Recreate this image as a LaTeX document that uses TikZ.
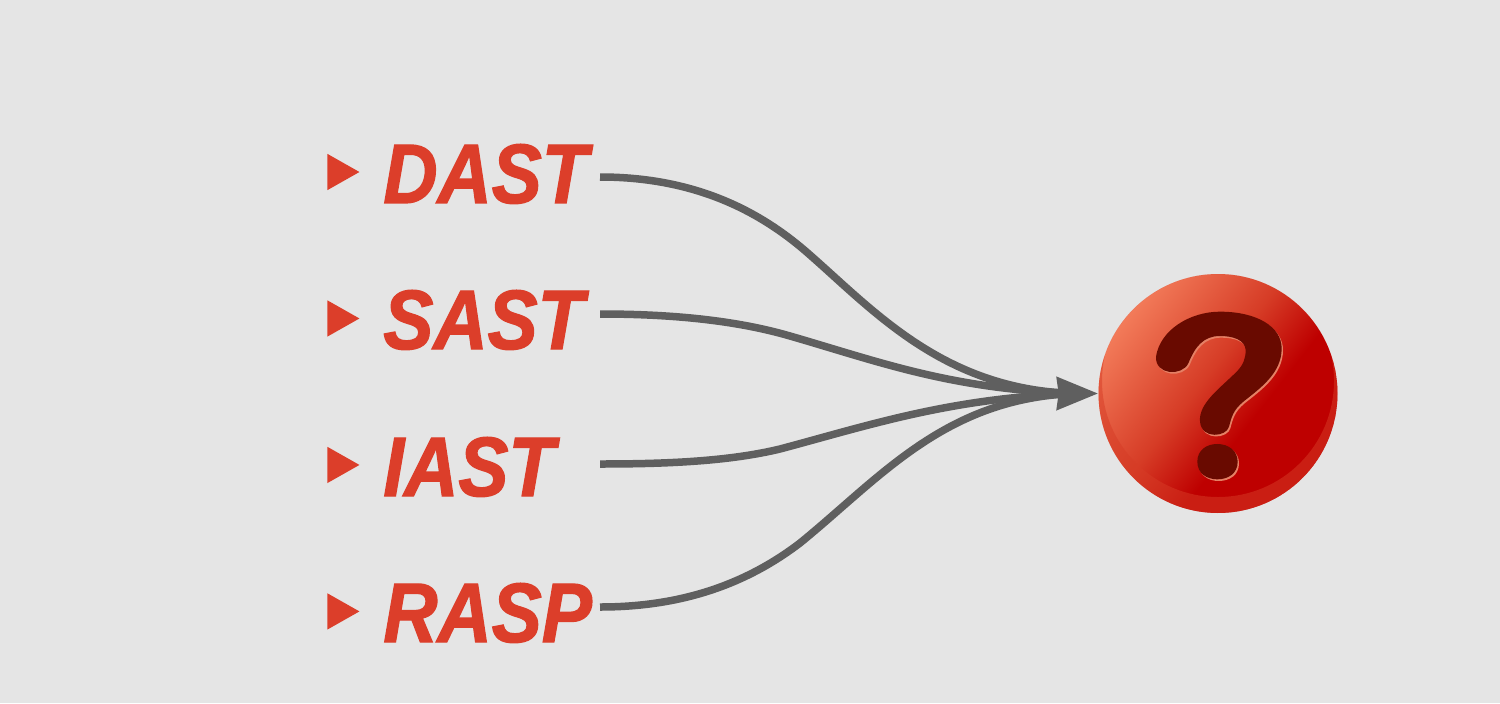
\documentclass[tikz,border=0pt]{standalone}
\usepackage{fontspec}
\setmainfont{Liberation Sans}[FakeStretch=0.89,BoldItalicFeatures={FakeBold=1.5}]
\usetikzlibrary{arrows.meta,shapes.geometric}
\definecolor{paper}{HTML}{E5E5E5}
\definecolor{toolred}{HTML}{DC3E2A}
\definecolor{wire}{HTML}{5F5F5F}
\definecolor{ballred}{HTML}{BE0000}
\definecolor{ballmid}{HTML}{D63C26}
\definecolor{balllight}{HTML}{F47E5C}
\definecolor{markdark}{HTML}{690A00}
\definecolor{markedge}{HTML}{E58065}
\pgfdeclareverticalshading{ballshade}{100bp}{color(0bp)=(ballred); color(41bp)=(ballred); color(54bp)=(ballmid); color(76bp)=(balllight); color(100bp)=(balllight)}
\newcommand{\markpath}{(228,290) .. controls (240,210) and (330,155) .. (420,155) .. controls (530,155) and (605,200) .. (605,265) .. controls (605,340) and (540,385) .. (490,425) .. controls (460,450) and (455,470) .. (447,500) .. controls (440,530) and (365,540) .. (360,485) .. controls (355,430) and (420,385) .. (470,335) .. controls (490,315) and (497,295) .. (497,270) .. controls (495,240) and (460,228) .. (420,228) .. controls (370,228) and (345,260) .. (325,310) .. controls (305,350) and (225,345) .. (228,290) -- cycle (352,605) .. controls (352,570) and (380,552) .. (412,552) .. controls (445,552) and (473,572) .. (473,605) .. controls (473,640) and (445,658) .. (412,658) .. controls (380,658) and (352,640) .. (352,605) -- cycle}
\begin{document}
\begin{tikzpicture}[x=0.02cm,y=-0.02cm,node distance=2.93cm,>={Stealth[length=0.82cm,width=0.64cm,inset=0.03cm]},
	bullet/.style={isosceles triangle,isosceles triangle apex angle=59,fill=toolred,inner sep=0pt,minimum height=0.64cm},
	tool label/.style={anchor=west,inner sep=0pt,text=toolred,text height=1.2cm,text depth=0pt,font=\fontsize{48}{48}\selectfont\bfseries\itshape},
	flow/.style={draw=wire,line width=0.15cm}]
	\fill[paper] (0,0) rectangle (1500,703);
	\useasboundingbox (0,0) rectangle (1500,703);

	\node[bullet] (b1) at (338,172) {};
	\node[bullet] (b2) [below of=b1] {};
	\node[bullet] (b3) [below of=b2] {};
	\node[bullet] (b4) [below of=b3] {};

	\node[tool label] (dast) at (383,173) {DAST};
	\node[tool label] (sast) at (383,319) {SAST};
	\node[tool label] (iast) at (383,466) {IAST};
	\node[tool label] (rasp) at (383,612) {RASP};

	% the ball
	\node[circle,minimum size=4.78cm,inner sep=0pt,shading=ballshade,shading angle=52] (ball) at (1218,393.5) {};
	\begin{scope}
		\clip (ball.center) circle (119.5);
		\fill[ballmid,opacity=0.5,even odd rule] (ball.center) circle (119.5) (1218,381) circle (116);
	\end{scope}
	\begin{scope}[shift={(1080,260)},x=0.006667cm,y=-0.006667cm]
		\fill[markedge,shift={(4,5)}] \markpath;
		\fill[markdark] \markpath;
	\end{scope}

	\coordinate (dast out) at (600,177);
	\coordinate (sast out) at (600,314);
	\coordinate (iast out) at (600,464);
	\coordinate (rasp out) at (600,607);
	\coordinate (head base) at (1050,393.5);
	\coordinate (merge) at (1075,393.5);

	\draw[flow] (dast out) .. controls (700,177) and (765,215) .. (810,255) .. controls (875,312) and (945,390) .. (merge);
	\draw[flow] (sast out) .. controls (670,314) and (735,320) .. (790,336) .. controls (880,362) and (950,389) .. (merge);
	\draw[flow] (iast out) .. controls (670,464) and (730,461) .. (780,449) .. controls (870,425) and (950,398) .. (merge);
	\draw[flow] (rasp out) .. controls (680,607) and (745,585) .. (800,543) .. controls (880,478) and (945,398) .. (merge);
	\draw[flow,->] (head base) -- (ball.west);
\end{tikzpicture}
\end{document}
